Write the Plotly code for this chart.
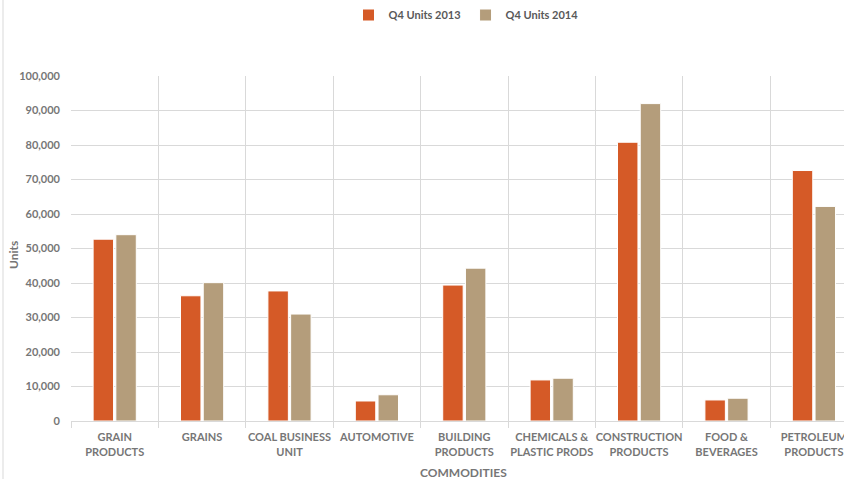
import plotly.graph_objects as go

categories = ["GRAIN<br>PRODUCTS", "GRAINS", "COAL BUSINESS<br>UNIT", "AUTOMOTIVE",
              "BUILDING<br>PRODUCTS", "CHEMICALS &<br>PLASTIC PRODS", "CONSTRUCTION<br>PRODUCTS",
              "FOOD &<br>BEVERAGES", "PETROLEUM<br>PRODUCTS"]
units_2013 = [52700, 36300, 37700, 5800, 39400, 11900, 80800, 6100, 72600]
units_2014 = [54000, 40100, 31000, 7600, 44300, 12400, 92000, 6600, 62200]
y_ticks = [0, 10000, 20000, 30000, 40000, 50000, 60000, 70000, 80000, 90000, 100000]

W, H = 844, 479
L, T, B = 71, 76, 58
plot_w = W - L
plot_h = H - T - B
cat_px = 87.4
span = plot_w / cat_px

txt = "#767676"
font_fam = "Lato, 'Open Sans', sans-serif"

fig = go.Figure()
fig.add_trace(go.Bar(name="Q4 Units 2013", x=categories, y=units_2013,
                     marker=dict(color="#D55A27", line=dict(color="#FFFFFF", width=1))))
fig.add_trace(go.Bar(name="Q4 Units 2014", x=categories, y=units_2014,
                     marker=dict(color="#B49D7B", line=dict(color="#FFFFFF", width=1))))

fig.update_layout(
    width=W, height=H,
    margin=dict(l=L, r=0, t=T, b=B, pad=0, autoexpand=False),
    paper_bgcolor="white", plot_bgcolor="white",
    barmode="group", bargap=0.48, bargroupgap=0.1,
    font=dict(family=font_fam, color=txt, size=11),
    legend=dict(orientation="h", x=(466 - L) / plot_w, xanchor="center",
                y=1 + (T - 15) / plot_h, yanchor="middle",
                font=dict(size=11, color="#595959", weight="bold"),
                itemwidth=30, tracegroupgap=0),
    showlegend=True,
)
fig.update_xaxes(
    type="category", range=[-0.5, -0.5 + span], automargin=False, tickangle=0,
    tickson="boundaries", showgrid=True, gridcolor="#D9D9D9", gridwidth=1,
    showline=True, linecolor="#D9D9D9", linewidth=1,
    ticks="outside", ticklen=6, tickcolor="#D9D9D9", ticklabelstandoff=6,
    tickfont=dict(size=11, color=txt, weight="bold"),
)
fig.update_yaxes(
    range=[0, 100000], tickvals=y_ticks, tickformat=",", automargin=False,
    showgrid=True, gridcolor="#D9D9D9", gridwidth=1, zeroline=False,
    ticks="", tickfont=dict(size=11, color=txt, weight="bold"), ticklabelstandoff=10,
)
fig.add_annotation(text="Units", textangle=-90, xref="paper", yref="paper",
                   x=(13 - L) / plot_w, y=(421 - 255) / plot_h,
                   xanchor="center", yanchor="middle",
                   showarrow=False, font=dict(size=12, color=txt, weight="bold"))
fig.add_annotation(text="COMMODITIES", xref="paper", yref="paper",
                   x=(463 - L) / plot_w, y=-(472 - 421) / plot_h,
                   xanchor="center", yanchor="middle",
                   showarrow=False, font=dict(size=12, color=txt, weight="bold"))
fig.add_shape(type="line", xref="paper", yref="paper",
              x0=(3 - L) / plot_w, x1=(3 - L) / plot_w, y0=-0.3, y1=1.4,
              line=dict(color="#D9D9D9", width=1))

fig.write_html("out.html")
